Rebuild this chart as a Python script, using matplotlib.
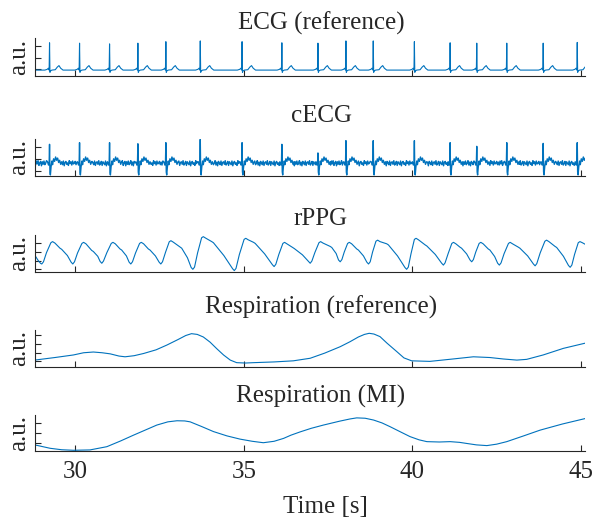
import numpy as np
import matplotlib
matplotlib.use('Agg')
import matplotlib.pyplot as plt

plt.rcParams['font.family'] = ['Liberation Serif', 'DejaVu Serif']
plt.rcParams['font.size'] = 18

blue = '#0072BD'
dark = '#262626'

# x axis
t_lim = (28.8, 45.12)
x_ticks = [30, 35, 40, 45]

# R-peak times [s]
beat_t = [29.24, 30.13, 31.02, 31.86, 32.69, 33.71, 34.95, 36.13, 37.20,
          38.03, 38.84, 40.06, 41.12, 41.91, 42.80, 43.88, 44.89]
ecg_r = [0.88, 0.87, 0.85, 0.87, 0.91, 0.93, 0.91, 0.88, 0.87,
         0.93, 0.93, 0.91, 0.88, 0.87, 0.87, 0.87, 0.89]
cecg_r = [0.855, 0.90, 0.90, 0.87, 0.90, 0.99, 0.90, 0.855, 0.62,
          0.955, 0.955, 0.955, 0.90, 0.80, 0.90, 0.88, 0.90]

# beat shape around each R peak (offset [s], value above baseline)
ecg_base = 0.15
ecg_pre_off = [-0.14, -0.07, -0.035, -0.012]
ecg_pre_val = [0.0, 0.02, 0.05, 0.0]
ecg_post_off = [0.012, 0.03, 0.07, 0.17, 0.23, 0.28, 0.33, 0.40]
ecg_post_val = [-0.06, -0.02, 0.0, 0.01, 0.08, 0.12, 0.05, 0.0]

cecg_base = 0.34
cecg_pre_off = [-0.06, -0.03, -0.012]
cecg_pre_val = [0.04, -0.05, -0.02]
cecg_post_off = [0.012, 0.025, 0.045, 0.07, 0.09, 0.12, 0.15, 0.18, 0.21,
                 0.24, 0.27, 0.30, 0.33, 0.36]
cecg_post_val = [-0.24, -0.32, -0.10, 0.06, -0.04, 0.12, 0.05, 0.17, 0.08,
                 0.14, 0.02, 0.08, -0.03, 0.04]
# sensor noise between beats (read as a jitter band), 25 ms spacing
cecg_noise = [0.03, -0.05, 0.06, -0.02, 0.07, -0.06, 0.01, 0.05, -0.07, 0.04,
              -0.03, 0.06, -0.04, 0.0, 0.07, -0.05, 0.03, -0.07, 0.05, 0.01,
              -0.04, 0.06, -0.06, 0.02, 0.04, -0.03, 0.07, -0.05, -0.01, 0.05,
              -0.06, 0.04, 0.0, -0.04, 0.06, -0.07, 0.02, 0.05, -0.03, 0.01,
              -0.06, 0.07, -0.01, 0.04, -0.05, 0.06, -0.02, 0.0, 0.05, -0.04]

# rPPG
rppg_t = [28.80, 28.90, 28.97, 29.01,
          29.06, 29.15, 29.28, 29.33, 29.40, 29.55, 29.60, 29.77, 29.88, 29.93,
          29.98, 30.07, 30.20, 30.25, 30.32, 30.49, 30.54, 30.67, 30.74, 30.79,
          30.84, 30.94, 31.07, 31.12, 31.19, 31.33, 31.38, 31.52, 31.60, 31.65,
          31.70, 31.79, 31.91, 31.96, 32.03, 32.17, 32.22, 32.38, 32.49, 32.54,
          32.59, 32.68, 32.79, 32.84, 32.91, 33.11, 33.16, 33.33, 33.44, 33.49,
          33.54, 33.63, 33.75, 33.80, 33.87, 34.05, 34.10, 34.41, 34.67, 34.72,
          34.77, 34.87, 35.01, 35.06, 35.13, 35.29, 35.34, 35.62, 35.85, 35.90,
          35.95, 36.04, 36.16, 36.21, 36.28, 36.45, 36.50, 36.74, 36.92, 36.97,
          37.02, 37.11, 37.23, 37.28, 37.35, 37.56, 37.61, 37.74, 37.81, 37.86,
          37.91, 37.98, 38.08, 38.13, 38.20, 38.35, 38.40, 38.55, 38.65, 38.70,
          38.75, 38.82, 38.92, 38.97, 39.04, 39.24, 39.29, 39.56, 39.78, 39.83,
          39.88, 39.96, 40.06, 40.11, 40.18, 40.38, 40.43, 40.68, 40.87, 40.92,
          40.97, 41.06, 41.17, 41.22, 41.29, 41.41, 41.46, 41.61, 41.71, 41.76,
          41.81, 41.88, 41.98, 42.03, 42.10, 42.25, 42.30, 42.44, 42.53, 42.58,
          42.63, 42.72, 42.85, 42.90, 42.97, 43.14, 43.19, 43.42, 43.59, 43.64,
          43.69, 43.79, 43.93, 43.98, 44.05, 44.23, 44.28, 44.48, 44.63, 44.68,
          44.73, 44.81, 44.92, 44.97, 45.04, 45.12]
rppg_v = [0.455, 0.31, 0.23, 0.21,
          0.27, 0.52, 0.79, 0.82, 0.78, 0.64, 0.61, 0.44, 0.26, 0.21,
          0.27, 0.51, 0.77, 0.80, 0.76, 0.58, 0.55, 0.42, 0.28, 0.23,
          0.29, 0.52, 0.77, 0.80, 0.76, 0.62, 0.59, 0.43, 0.26, 0.21,
          0.27, 0.51, 0.77, 0.80, 0.76, 0.62, 0.59, 0.43, 0.26, 0.21,
          0.27, 0.53, 0.815, 0.845, 0.805, 0.67, 0.64, 0.38, 0.115, 0.065,
          0.125, 0.51, 0.925, 0.955, 0.915, 0.82, 0.79, 0.44, 0.08, 0.03,
          0.09, 0.47, 0.88, 0.91, 0.87, 0.80, 0.77, 0.485, 0.19, 0.14,
          0.20, 0.47, 0.77, 0.80, 0.76, 0.66, 0.63, 0.46, 0.28, 0.23,
          0.29, 0.525, 0.79, 0.82, 0.78, 0.69, 0.66, 0.495, 0.32, 0.27,
          0.33, 0.535, 0.77, 0.80, 0.76, 0.62, 0.59, 0.43, 0.26, 0.21,
          0.27, 0.535, 0.83, 0.86, 0.82, 0.76, 0.73, 0.43, 0.115, 0.065,
          0.125, 0.49, 0.88, 0.91, 0.87, 0.73, 0.70, 0.47, 0.23, 0.18,
          0.24, 0.49, 0.77, 0.80, 0.76, 0.67, 0.64, 0.485, 0.32, 0.27,
          0.33, 0.535, 0.77, 0.80, 0.76, 0.62, 0.59, 0.415, 0.23, 0.18,
          0.24, 0.49, 0.77, 0.80, 0.76, 0.67, 0.64, 0.43, 0.21, 0.16,
          0.22, 0.51, 0.83, 0.86, 0.82, 0.69, 0.66, 0.42, 0.17, 0.12,
          0.18, 0.47, 0.79, 0.82, 0.79, 0.75]

# respiration, reference belt
resp_ref_t = [28.80, 29.40, 29.95, 30.25, 30.54, 30.80, 31.04, 31.30, 31.48,
              31.75, 32.03, 32.40, 32.72, 33.05, 33.28, 33.45, 33.62, 33.80,
              34.00, 34.20, 34.40, 34.60, 34.79, 35.05, 35.29, 35.90, 36.47,
              36.97, 37.40, 37.86, 38.15, 38.40, 38.58, 38.72, 38.86, 39.04,
              39.25, 39.54, 39.75, 39.98, 40.52, 41.20, 41.81, 42.30, 42.70,
              43.10, 43.39, 43.88, 44.48, 45.12]
resp_ref_v = [0.18, 0.25, 0.32, 0.38, 0.40, 0.38, 0.35, 0.29, 0.27,
              0.30, 0.36, 0.46, 0.59, 0.74, 0.85, 0.90, 0.88, 0.81,
              0.67, 0.49, 0.32, 0.18, 0.11, 0.10, 0.11, 0.13, 0.16,
              0.23, 0.37, 0.545, 0.68, 0.81, 0.88, 0.91, 0.89, 0.82,
              0.64, 0.41, 0.24, 0.16, 0.145, 0.21, 0.27, 0.25, 0.21,
              0.18, 0.20, 0.32, 0.50, 0.64]

# respiration, motion-induced estimate
resp_mi_t = [28.80, 29.26, 29.60, 29.95, 30.44, 30.94, 31.35, 31.73, 32.10,
             32.42, 32.75, 33.02, 33.25, 33.41, 33.75, 34.10, 34.50, 34.89,
             35.25, 35.58, 35.90, 36.18, 36.40, 36.67, 37.00, 37.36, 37.85,
             38.15, 38.35, 38.60, 38.85, 39.10, 39.34, 39.65, 39.93, 40.20,
             40.43, 40.80, 41.12, 41.40, 41.61, 41.90, 42.21, 42.50, 42.80,
             43.30, 43.79, 44.45, 45.12]
resp_mi_v = [0.17, 0.075, 0.035, 0.02, 0.03, 0.12, 0.28, 0.44, 0.59,
             0.72, 0.81, 0.84, 0.835, 0.81, 0.68, 0.54, 0.42, 0.33,
             0.27, 0.23, 0.27, 0.35, 0.44, 0.53, 0.63, 0.72, 0.83,
             0.89, 0.92, 0.91, 0.86, 0.78, 0.675, 0.53, 0.40, 0.31,
             0.26, 0.25, 0.26, 0.24, 0.21, 0.17, 0.15, 0.19, 0.26,
             0.42, 0.58, 0.75, 0.90]

titles = ['ECG (reference)', 'cECG', 'rPPG', 'Respiration (reference)', 'Respiration (MI)']
y_ticks = [[0.17, 0.48, 0.80],
           [0.13, 0.45, 0.78],
           [0.07, 0.30, 0.53, 0.77],
           [0.155, 0.38, 0.62, 0.855],
           [0.23, 0.51, 0.79]]


def build_ecg(base, r_vals, pre_off, pre_val, post_off, post_val, noise=None):
    xs, ys = [], []
    if noise is None:
        xs.append(t_lim[0]); ys.append(base)
    else:
        # noise samples outside the beat windows
        grid = t_lim[0] + 0.025 * np.arange(int((t_lim[1] - t_lim[0]) / 0.025) + 2)
        nz = np.resize(np.array(noise), len(grid))
        keep = np.ones(len(grid), bool)
        for bt in beat_t:
            keep &= ~((grid > bt + pre_off[0] - 0.01) & (grid < bt + post_off[-1] + 0.01))
        xs += list(grid[keep]); ys += list(base + nz[keep])
    for bt, rv in zip(beat_t, r_vals):
        xs += [bt + o for o in pre_off]; ys += [base + v for v in pre_val]
        xs.append(bt); ys.append(rv)
        xs += [bt + o for o in post_off]; ys += [base + v for v in post_val]
    if noise is None:
        xs.append(t_lim[1] + 0.1); ys.append(base)
    order = np.argsort(xs, kind='stable')
    return np.array(xs)[order], np.array(ys)[order]


ecg_x, ecg_y = build_ecg(ecg_base, ecg_r, ecg_pre_off, ecg_pre_val, ecg_post_off, ecg_post_val)
cecg_x, cecg_y = build_ecg(cecg_base, cecg_r, cecg_pre_off, cecg_pre_val,
                           cecg_post_off, cecg_post_val, noise=cecg_noise)

series = [(ecg_x, ecg_y), (cecg_x, cecg_y), (rppg_t, rppg_v),
          (resp_ref_t, resp_ref_v), (resp_mi_t, resp_mi_v)]
line_w = [0.8, 1.0, 0.8, 0.8, 0.8]

# layout in pixels (top, bottom) of each panel, and title baselines
W, H = 593, 520
panels_px = [(38.3, 75.7), (139.0, 175.7), (235.0, 271.7), (330.0, 366.7), (415.0, 451.0)]
title_base_px = [29.3, 121.7, 225.0, 314.0, 402.7]
left_px, right_px = 34.7, 585.0

fig = plt.figure(figsize=(W / 100, H / 100), dpi=100)

for i, ((top, bot), (x, y)) in enumerate(zip(panels_px, series)):
    ax = fig.add_axes([left_px / W, 1 - bot / H, (right_px - left_px) / W, (bot - top) / H])
    ax.plot(x, y, color=blue, lw=line_w[i])
    ax.set_xlim(*t_lim)
    ax.set_ylim(0, 1)
    ax.set_xticks(x_ticks)
    ax.set_yticks(y_ticks[i])
    ax.set_yticklabels([])
    if i < 4:
        ax.set_xticklabels([])
    for s in ['top', 'right']:
        ax.spines[s].set_visible(False)
    for s in ['left', 'bottom']:
        ax.spines[s].set_color(dark)
        ax.spines[s].set_linewidth(0.8)
    ax.tick_params(direction='in', length=4, width=0.8, color=dark, labelcolor=dark, pad=7)
    ax.set_ylabel('a.u.', color=dark)
    ax.yaxis.set_label_coords(-0.009, 0.5)
    fig.text(321 / W, 1 - title_base_px[i] / H, titles[i], ha='center', va='baseline', color=dark)

fig.text(325 / W, 1 - 512.7 / H, 'Time [s]', ha='center', va='baseline', color=dark)

fig.savefig('out.png', dpi=100)
